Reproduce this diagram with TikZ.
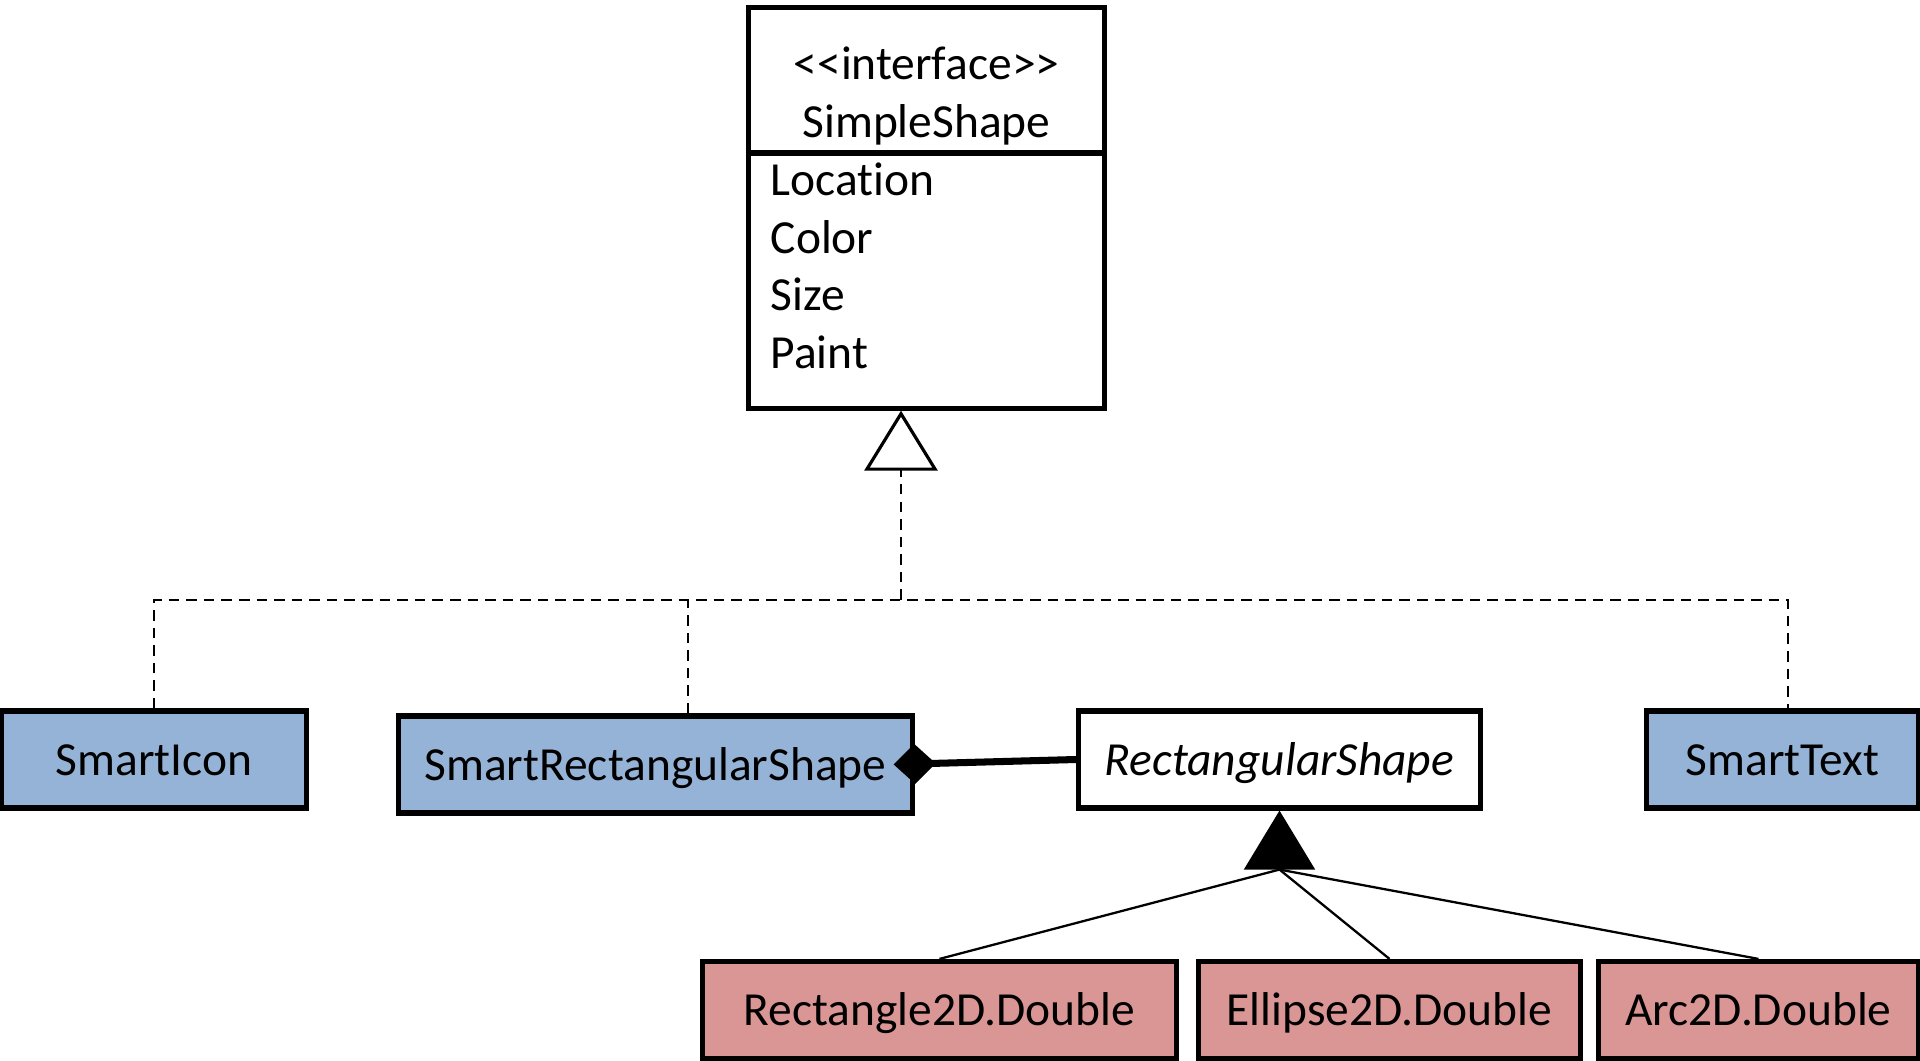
\documentclass[tikz,border=0pt]{standalone}
\usepackage{fontspec}
\setmainfont{Carlito}[Ligatures={CommonOff}]
\usetikzlibrary{positioning, arrows.meta, calc}
\definecolor{smartblue}{RGB}{149,179,215}
\definecolor{awtred}{RGB}{217,150,148}
\tikzset{
  umlbox/.style={draw=black, line width=1.45pt, minimum height=0.97cm, inner sep=0pt, text height=0.41cm, text depth=0.1cm},
  smartbox/.style={umlbox, fill=smartblue},
  javabox/.style={umlbox, fill=awtred},
  realize/.style={line width=0.45pt, dash pattern=on 3pt off 2pt},
  inherit/.style={line width=0.65pt},
  compose/.style={line width=2pt},
}

\begin{document}
\begin{tikzpicture}[x=0.01cm, y=-0.01cm, font=\fontsize{13.5}{16.5}\selectfont]
  \useasboundingbox (0,0) rectangle (1920,1061);
  % interface SimpleShape
  \node[draw, line width=1.45pt, minimum width=3.55cm, minimum height=4cm, inner sep=0pt] (simple) at (926.5,208) {};
  \draw[line width=1.45pt] (simple.west |- 0,153) -- (simple.east |- 0,153);
  \node[anchor=base] (stereo) at (926.5,80) {<{}<interface>{}>};
  \node[anchor=base] (sname) at (926.5,138) {SimpleShape};
  \node[anchor=base west, inner sep=0pt] (loc) at (770,196) {Location};
  \node[anchor=base west, inner sep=0pt] (col) at (770,254) {Color};
  \node[anchor=base west, inner sep=0pt] (siz) at (770,311) {Size};
  \node[anchor=base west, inner sep=0pt] (pnt) at (770,369) {Paint};
  % implementierende Klassen
  \node[smartbox, minimum width=3.04cm] (icon) at (154,759.5) {SmartIcon};
  \node[smartbox, minimum width=5.13cm] (srs) at (655.5,764.5) {SmartRectangularShape};
  \node[umlbox, fill=white, minimum width=4.01cm] (rs) at (1279.5,759.5) {\textit{RectangularShape}};
  \node[smartbox, minimum width=2.71cm] (text) at (1782.5,759.5) {SmartText};
  % java.awt.geom
  \node[javabox, minimum width=4.73cm] (rect) at (939.5,1010) {Rectangle2D.Double};
  \node[javabox, minimum width=3.81cm] (ellipse) at (1389.5,1010) {Ellipse2D.Double};
  \node[javabox, minimum width=3.19cm] (arc) at (1758.5,1010) {Arc2D.Double};
  % realisierung (gestrichelt)
  \coordinate (bus) at (901,600);
  \draw[realize, -{Triangle[open, length=0.6cm, width=0.73cm, line width=0.9pt]}] (bus) -- (simple.south -| bus);
  \draw[realize] (icon.north) |- (bus) -| ([xshift=0.55mm]text.north);
  \draw[realize] ([xshift=3.25mm]srs.north) -- ([xshift=3.25mm]srs.north |- bus);
  % vererbung
  \coordinate (gen) at ($(rs.south)+(0,59)$);
  \draw[inherit, -{Triangle[length=0.59cm, width=0.71cm, line width=0.5pt]}] (gen) -- (rs.south);
  \draw[inherit] (gen) -- (rect.north);
  \draw[inherit] (gen) -- (ellipse.north);
  \draw[inherit] (gen) -- (arc.north);
  % komposition
  \draw[compose, -{Diamond[length=0.42cm, width=0.4cm, line width=0pt]}] (rs.west) -- ([xshift=-2.1mm]srs.east);
\end{tikzpicture}
\end{document}
